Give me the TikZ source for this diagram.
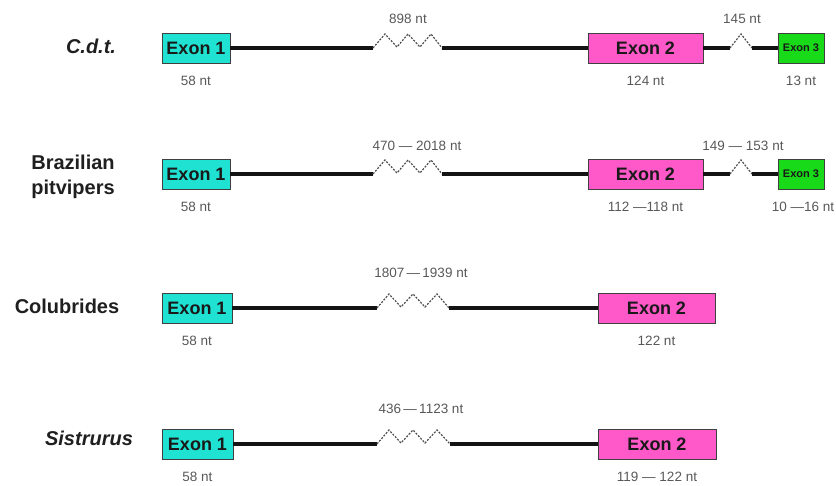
\documentclass[tikz,border=0pt]{standalone}
\usepackage{fontspec}
\setmainfont{Liberation Sans}
\usepackage{tikz}
\usepackage{xcolor}
\usetikzlibrary{positioning}

\definecolor{exoncyan}{RGB}{32,226,210}
\definecolor{exonpink}{RGB}{255,88,200}
\definecolor{exongreen}{RGB}{24,218,24}
\definecolor{ntgray}{RGB}{88,88,88}

\tikzset{
  exon/.style={draw=black!75,line width=0.8pt,inner sep=0pt,minimum height=30pt,
    font=\bfseries\fontsize{18}{20}\selectfont,text=black!90},
  exonsmall/.style={exon,font=\bfseries\fontsize{11}{12}\selectfont},
  intron/.style={line width=3.2pt,black!92},
  zig/.style={line width=1.2pt,black!70,dash pattern=on 2pt off 1.4pt},
  ntlabel/.style={inner sep=0pt,text=ntgray,font=\fontsize{13.5}{15}\selectfont},
  species/.style={inner sep=0pt,text=black!88,align=center,font=\bfseries\fontsize{20}{25}\selectfont}
}

\begin{document}
\begin{tikzpicture}[x=1pt,y=-1pt]
\useasboundingbox (0,0) rectangle (836,486);

% C.d.t.
\node[species] (s1) at (91,46) {\itshape C.d.t.};
\node[exon,fill=exoncyan,minimum width=68pt] (a1) at (196,48) {Exon 1};
\node[exon,fill=exonpink,minimum width=115pt] (b1) at (645.5,48) {Exon 2};
\node[exonsmall,fill=exongreen,minimum width=46pt] (c1) at (801,48) {Exon 3};
\coordinate (z1s) at (373,48);
\coordinate (z1e) at (442,48);
\coordinate (y1s) at (730,48);
\coordinate (y1e) at (752,48);
\draw[intron] (a1.east) -- (z1s);
\draw[zig] (z1s) -- ++(12,-14) -- ++(12,13) -- ++(11,-13) -- ++(12,13) -- ++(11,-13) -- (z1e);
\draw[intron] (z1e) -- (b1.west);
\draw[intron] (b1.east) -- (y1s);
\draw[zig] (y1s) -- ++(11,-14) -- (y1e);
\draw[intron] (y1e) -- (c1.west);
\node[ntlabel] (n1a) at (408,19) {898 nt};
\node[ntlabel] (n1b) at (742,19) {145 nt};
\node[ntlabel,below=12pt of a1] (l1a) {58 nt};
\node[ntlabel,below=12pt of b1] (l1b) {124 nt};
\node[ntlabel,below=12pt of c1] (l1c) {13 nt};

% Brazilian pitvipers
\node[species] (s2) at (73,177) {Brazilian\\pitvipers};
\node[exon,fill=exoncyan,minimum width=68pt] (a2) at (196,174) {Exon 1};
\node[exon,fill=exonpink,minimum width=115pt] (b2) at (645.5,174) {Exon 2};
\node[exonsmall,fill=exongreen,minimum width=46pt] (c2) at (801,174) {Exon 3};
\coordinate (z2s) at (373,174);
\coordinate (z2e) at (442,174);
\coordinate (y2s) at (730,174);
\coordinate (y2e) at (752,174);
\draw[intron] (a2.east) -- (z2s);
\draw[zig] (z2s) -- ++(12,-14) -- ++(12,13) -- ++(11,-13) -- ++(12,13) -- ++(11,-13) -- (z2e);
\draw[intron] (z2e) -- (b2.west);
\draw[intron] (b2.east) -- (y2s);
\draw[zig] (y2s) -- ++(11,-14) -- (y2e);
\draw[intron] (y2e) -- (c2.west);
\node[ntlabel] (n2a) at (417,146) {470 — 2018 nt};
\node[ntlabel] (n2b) at (743,146) {149 — 153 nt};
\node[ntlabel,below=12pt of a2] (l2a) {58 nt};
\node[ntlabel,below=12pt of b2] (l2b) {112 —118 nt};
\node[ntlabel,below=12pt of c2,xshift=2pt] (l2c) {10 —16 nt};

% Colubrides
\node[species] (s3) at (67,306) {Colubrides};
\node[exon,fill=exoncyan,minimum width=70pt] (a3) at (197,308) {Exon 1};
\node[exon,fill=exonpink,minimum width=117pt] (b3) at (656.5,308) {Exon 2};
\coordinate (z3s) at (377,308);
\coordinate (z3e) at (449,308);
\draw[intron] (a3.east) -- (z3s);
\draw[zig] (z3s) -- ++(12,-14) -- ++(12,13) -- ++(12,-13) -- ++(12,13) -- ++(12,-13) -- (z3e);
\draw[intron] (z3e) -- (b3.west);
\node[ntlabel] (n3a) at (421,273) {1807\,—\,1939 nt};
\node[ntlabel,below=12pt of a3] (l3a) {58 nt};
\node[ntlabel,below=12pt of b3] (l3b) {122 nt};

% Sistrurus
\node[species] (s4) at (89,438) {\itshape Sistrurus};
\node[exon,fill=exoncyan,minimum width=71pt] (a4) at (197.5,444) {Exon 1};
\node[exon,fill=exonpink,minimum width=118pt] (b4) at (657,444) {Exon 2};
\coordinate (z4s) at (377,444);
\coordinate (z4e) at (450,444);
\draw[intron] (a4.east) -- (z4s);
\draw[zig] (z4s) -- ++(12,-14) -- ++(12,13) -- ++(12,-13) -- ++(12,13) -- ++(12,-13) -- (z4e);
\draw[intron] (z4e) -- (b4.west);
\node[ntlabel] (n4a) at (421,409) {436\,—\,1123 nt};
\node[ntlabel,below=12pt of a4] (l4a) {58 nt};
\node[ntlabel,below=12pt of b4] (l4b) {119 — 122 nt};
\end{tikzpicture}
\end{document}
